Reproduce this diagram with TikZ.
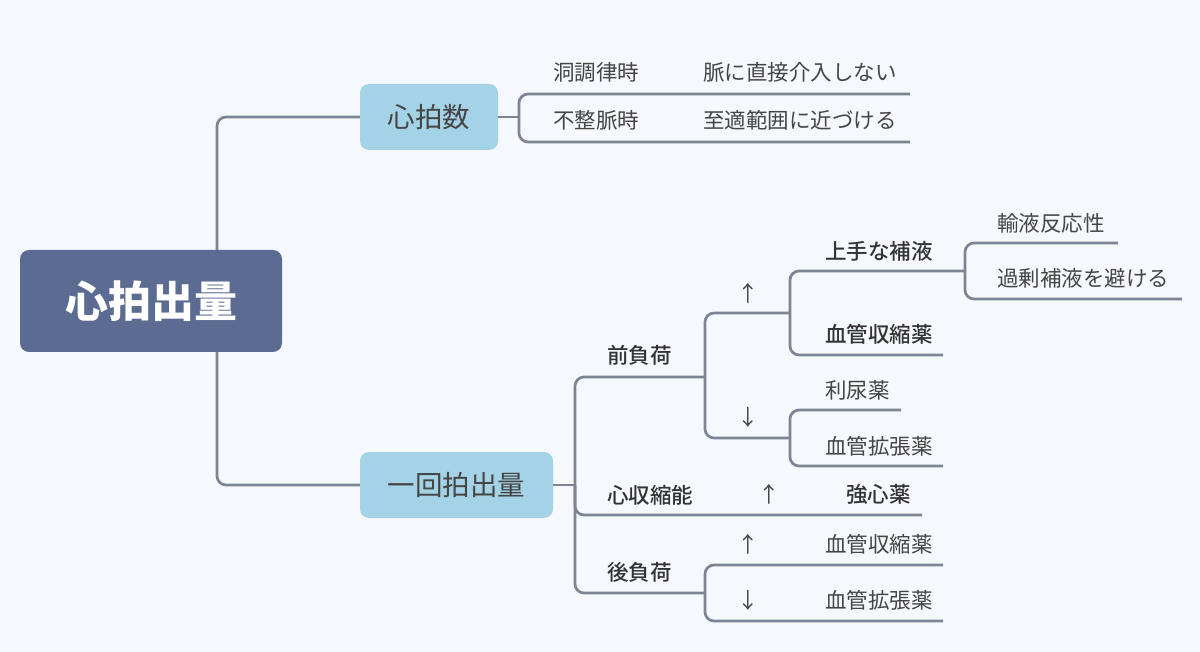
\documentclass[tikz,border=0pt]{standalone}
\usepackage{fontspec}
\setmainfont{Noto Sans CJK JP}
\IfFontExistsTF{Noto Sans CJK JP Medium}
  {\newfontfamily\medfont{Noto Sans CJK JP Medium}}
  {\newcommand\medfont{\bfseries}}
\definecolor{bgc}{HTML}{F5F8FC}
\definecolor{rootc}{HTML}{5B6B92}
\definecolor{lonec}{HTML}{A4D2E6}
\definecolor{linec}{HTML}{7D8595}
\definecolor{txtc}{HTML}{454545}
\definecolor{btxtc}{HTML}{333333}
\tikzset{
  rootbox/.style={fill=rootc, rounded corners=9pt, text=white, minimum width=262pt, minimum height=102pt, inner sep=0pt, font=\fontsize{43}{50}\selectfont\bfseries},
  lonebox/.style={fill=lonec, rounded corners=9pt, text=txtc, minimum height=66pt, inner sep=0pt, font=\fontsize{27.5}{32}\selectfont},
  lbl/.style={anchor=west, inner sep=0pt, text=txtc, font=\fontsize{21.5}{26}\selectfont},
  blbl/.style={anchor=west, inner sep=0pt, text=btxtc, font=\fontsize{21.5}{26}\selectfont\medfont},
  arr/.style={anchor=center, inner sep=0pt, text=txtc, font=\fontsize{21.5}{26}\selectfont},
  conn/.style={draw=linec, line width=2.7pt, rounded corners=9pt},
}
\begin{document}
\begin{tikzpicture}[x=1pt,y=-1pt]
\fill[bgc] (0,0) rectangle (1200,652);
\useasboundingbox (0,0) rectangle (1200,652);
% main nodes
\node[rootbox] (root) at (151,301) {心拍出量};
\node[lonebox, minimum width=138pt] (hb) at (429,117) {心拍数};
\node[lonebox, minimum width=193pt] (sv) at (456.5,485) {一回拍出量};
% labels
\node[lbl] (dou) at (553,72) {洞調律時};
\node[lbl] (myaku) at (703,72) {脈に直接介入しない};
\node[lbl] (fusei) at (553,120) {不整脈時};
\node[lbl] (shiteki) at (703,120) {至適範囲に近づける};
\node[blbl] (pre) at (607,355) {前負荷};
\node[arr] (preup) at (748,293) {↑};
\node[blbl] (hoeki) at (825,251) {上手な補液};
\node[blbl] (vcA) at (825,334) {血管収縮薬};
\node[lbl] (yueki) at (997,223) {輸液反応性};
\node[lbl] (kajo) at (997,278) {過剰補液を避ける};
\node[arr] (predn) at (748,417) {↓};
\node[lbl] (rinyo) at (825,390) {利尿薬};
\node[lbl] (vdA) at (825,446) {血管拡張薬};
\node[blbl] (con) at (607,495) {心収縮能};
\node[arr] (conup) at (769,494) {↑};
\node[blbl] (kyo) at (846,494) {強心薬};
\node[blbl] (aft) at (607,572) {後負荷};
\node[arr] (aftup) at (748,544) {↑};
\node[lbl] (vcB) at (825,544) {血管収縮薬};
\node[arr] (aftdn) at (748,600) {↓};
\node[lbl] (vdB) at (825,600) {血管拡張薬};
% junction coordinates
\coordinate (rt) at (217,250);
\coordinate (rb) at (217,352);
\coordinate (hbj) at (519,117);
\coordinate (e1) at (910,94);
\coordinate (e2) at (910,142);
\coordinate (svj) at (575,485);
\coordinate (prej) at (705,377);
\coordinate (conend) at (922,515);
\coordinate (aftj) at (705,593);
\coordinate (upj) at (790,313);
\coordinate (dnj) at (790,438);
\coordinate (hoj) at (965,271);
\coordinate (vcAe) at (943,355);
\coordinate (yuekie) at (1118,243);
\coordinate (kajoe) at (1182,299);
\coordinate (rinyoe) at (901,410);
\coordinate (vdAe) at (943,466);
\coordinate (vcBe) at (943,565);
\coordinate (vdBe) at (943,621);
% connectors
\draw[conn] (rt) |- (hb.west);
\draw[conn] (rb) |- (sv.west);
\draw[conn] (hb.east) -- (hbj);
\draw[conn] (hbj) |- (e1);
\draw[conn] (hbj) |- (e2);
\draw[conn] (sv.east) -- (svj);
\draw[conn] (svj) |- (prej);
\draw[conn] (svj) |- (conend);
\draw[conn] (svj) |- (aftj);
\draw[conn] (prej) |- (upj);
\draw[conn] (prej) |- (dnj);
\draw[conn] (upj) |- (hoj);
\draw[conn] (upj) |- (vcAe);
\draw[conn] (hoj) |- (yuekie);
\draw[conn] (hoj) |- (kajoe);
\draw[conn] (dnj) |- (rinyoe);
\draw[conn] (dnj) |- (vdAe);
\draw[conn] (aftj) |- (vcBe);
\draw[conn] (aftj) |- (vdBe);
\end{tikzpicture}
\end{document}
